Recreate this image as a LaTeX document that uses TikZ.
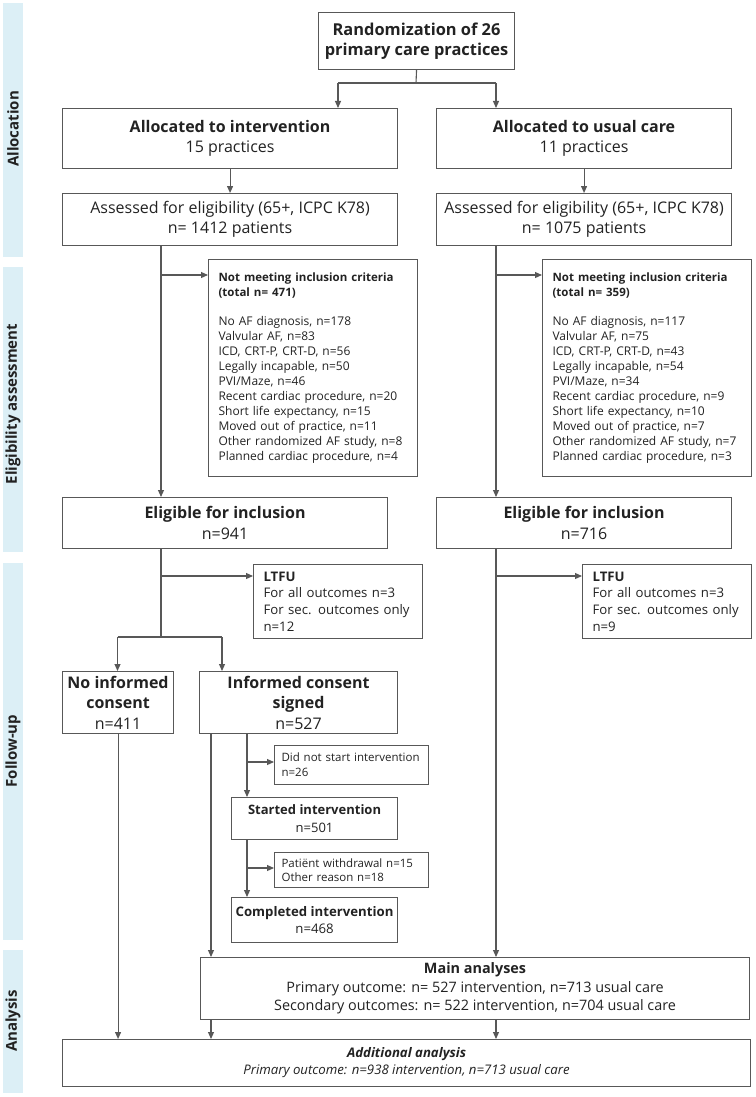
\documentclass[tikz,border=0pt]{standalone}
\usepackage{fontspec}
\setmainfont{Open Sans}
\usetikzlibrary{arrows.meta}
\definecolor{linec}{HTML}{585858}
\definecolor{textc}{HTML}{222222}
\definecolor{bandc}{HTML}{DCEFF6}
\begin{document}
\begin{tikzpicture}[x=1pt,y=-1pt,
  box/.style={draw=linec, line width=1.1pt, text=textc, anchor=north west, inner sep=0pt, align=center},
  lbox/.style={box, align=left, inner xsep=10pt},
  line/.style={draw=linec, line width=1.1pt},
  arr/.style={line, -{Triangle[length=7pt,width=6pt]}},
  phase/.style={rotate=90, text=textc, font=\bfseries\fontsize{15}{17}\selectfont}]

\useasboundingbox (0,0) rectangle (755,1097);

% phase bands
\fill[bandc] (3,3) rectangle (23,257);
\fill[bandc] (3,267) rectangle (23,552);
\fill[bandc] (3,563) rectangle (23,940);
\fill[bandc] (3,950) rectangle (23,1093);
\node[phase] (pAlloc) at (13,129) {Allocation};
\node[phase] (pElig) at (13,404) {Eligibility assessment};
\node[phase] (pFollow) at (13,751) {Follow-up};
\node[phase] (pAna) at (13,1021) {Analysis};

% allocation
\node[box, minimum width=196pt, minimum height=57pt, font=\bfseries\fontsize{16.4}{20}\selectfont] (rand) at (318,12) {Randomization of 26\\primary care practices};
\node[box, minimum width=335pt, minimum height=60pt, font=\fontsize{16}{20}\selectfont] (alloc1) at (62,108) {\textbf{Allocated to intervention}\\15 practices};
\node[box, minimum width=295pt, minimum height=60pt, font=\fontsize{16}{20}\selectfont] (alloc2) at (436,108) {\textbf{Allocated to usual care}\\11 practices};
\node[box, minimum width=335pt, minimum height=52pt, font=\fontsize{16}{20}\selectfont] (assess1) at (62,193) {Assessed for eligibility (65+, ICPC K78)\\n= 1412 patients};
\node[box, minimum width=295pt, minimum height=52pt, font=\fontsize{16}{20}\selectfont] (assess2) at (436,193) {Assessed for eligibility (65+, ICPC K78)\\n= 1075 patients};

% eligibility
\node[lbox, text width=189pt, minimum height=217pt, font=\fontsize{12}{15}\selectfont] (excl1) at (208,259) {{\bfseries\fontsize{11.5}{16}\selectfont Not meeting inclusion criteria\\(total n= 471)}\\[14pt]
No AF diagnosis, n=178\\Valvular AF, n=83\\ICD, CRT-P, CRT-D, n=56\\Legally incapable, n=50\\PVI/Maze, n=46\\Recent cardiac procedure, n=20\\Short life expectancy, n=15\\Moved out of practice, n=11\\Other randomized AF study, n=8\\Planned cardiac procedure, n=4};
\node[lbox, text width=189pt, minimum height=217pt, font=\fontsize{12}{15}\selectfont] (excl2) at (542,259) {{\bfseries\fontsize{11.5}{16}\selectfont Not meeting inclusion criteria\\(total n= 359)}\\[14pt]
No AF diagnosis, n=117\\Valvular AF, n=75\\ICD, CRT-P, CRT-D, n=43\\Legally incapable, n=54\\PVI/Maze, n=34\\Recent cardiac procedure, n=9\\Short life expectancy, n=10\\Moved out of practice, n=7\\Other randomized AF study, n=7\\Planned cardiac procedure, n=3};
\node[box, minimum width=325pt, minimum height=51pt, font=\fontsize{16}{21}\selectfont] (elig1) at (62,497) {\textbf{Eligible for inclusion}\\n=941};
\node[box, minimum width=295pt, minimum height=51pt, font=\fontsize{16}{21}\selectfont] (elig2) at (436,497) {\textbf{Eligible for inclusion}\\n=716};

% follow-up
\node[lbox, text width=149pt, minimum height=74pt, font=\fontsize{13.2}{16.7}\selectfont] (ltfu1) at (253,564) {\textbf{LTFU}\\For all outcomes n=3\\For sec. outcomes only\\n=12};
\node[lbox, text width=149pt, minimum height=74pt, font=\fontsize{13.2}{16.7}\selectfont] (ltfu2) at (582,564) {\textbf{LTFU}\\For all outcomes n=3\\For sec. outcomes only\\n=9};
\node[box, minimum width=111pt, minimum height=62pt, font=\fontsize{16}{20.5}\selectfont] (nocons) at (62,671) {\textbf{No informed}\\\textbf{consent}\\n=411};
\node[box, minimum width=198pt, minimum height=62pt, font=\fontsize{16}{20.5}\selectfont] (cons) at (199,671) {\textbf{Informed consent}\\\textbf{signed}\\n=527};
\node[lbox, inner xsep=7pt, text width=140pt, minimum height=39pt, font=\fontsize{11.5}{15}\selectfont] (dns) at (274,745) {Did not start intervention\\n=26};
\node[box, minimum width=166pt, minimum height=42pt, font=\fontsize{13}{18}\selectfont] (started) at (231,797) {\textbf{Started intervention}\\n=501};
\node[lbox, inner xsep=7pt, text width=140pt, minimum height=35pt, font=\fontsize{11.5}{14}\selectfont] (pw) at (274,852) {Patiënt withdrawal n=15\\Other reason n=18};
\node[box, minimum width=166pt, minimum height=45pt, font=\fontsize{13.2}{16.5}\selectfont] (completed) at (231,897) {\textbf{Completed intervention}\\n=468};

% analysis
\node[box, minimum width=549pt, minimum height=62pt, font=\fontsize{14.4}{18.5}\selectfont] (main) at (200,957) {\textbf{Main analyses}\\Primary outcome: n= 527 intervention, n=713 usual care\\Secondary outcomes: n= 522 intervention, n=704 usual care};
\node[box, minimum width=688pt, minimum height=47pt, font=\itshape\fontsize{13.2}{17}\selectfont] (add) at (62,1039) {\textbf{Additional analysis}\\Primary outcome: n=938 intervention, n=713 usual care};

% connectors
\coordinate (j0) at (416,83);
\coordinate (j0l) at (338,83);
\coordinate (j0r) at (496,83);
\draw[line] (rand.south) -- (j0);
\draw[line] (j0l) -- (j0r);
\draw[arr] (j0l) -- (j0l |- alloc1.north);
\draw[arr] (j0r) -- (j0r |- alloc2.north);
\draw[arr] (alloc1) -- (assess1);
\draw[arr] (alloc2) -- (assess2);

\coordinate (t1) at (161,245);
\coordinate (b1) at (161,275);
\draw[arr] (t1) -- (t1 |- elig1.north);
\draw[arr] (b1) -- (b1 -| excl1.west);
\coordinate (t2) at (496,245);
\coordinate (b2) at (496,275);
\draw[arr] (t2) -- (t2 |- elig2.north);
\draw[arr] (b2) -- (b2 -| excl2.west);

\coordinate (t3) at (161,548);
\coordinate (b3) at (161,576);
\coordinate (j3) at (161,637);
\coordinate (j3l) at (117.5,637);
\coordinate (j3r) at (222,637);
\draw[line] (t3) -- (j3);
\draw[arr] (b3) -- (b3 -| ltfu1.west);
\draw[line] (j3l) -- (j3r);
\draw[arr] (j3l) -- (j3l |- nocons.north);
\draw[arr] (j3r) -- (j3r |- cons.north);

\coordinate (t4) at (496,548);
\coordinate (b4) at (496,576);
\draw[arr] (t4) -- (t4 |- main.north);
\draw[arr] (b4) -- (b4 -| ltfu2.west);

\draw[arr] (nocons.south) -- (nocons.south |- add.north);
\coordinate (t5) at (211,733);
\draw[arr] (t5) -- (t5 |- main.north);
\coordinate (t6) at (247,733);
\coordinate (b6) at (247,762);
\draw[arr] (t6) -- (t6 |- started.north);
\draw[arr] (b6) -- (b6 -| dns.west);
\coordinate (t7) at (247,839);
\coordinate (b7) at (247,868);
\draw[arr] (t7) -- (t7 |- completed.north);
\draw[arr] (b7) -- (b7 -| pw.west);

\coordinate (t8) at (211,1019);
\coordinate (t9) at (496,1019);
\draw[arr] (t8) -- (t8 |- add.north);
\draw[arr] (t9) -- (t9 |- add.north);
\end{tikzpicture}
\end{document}
